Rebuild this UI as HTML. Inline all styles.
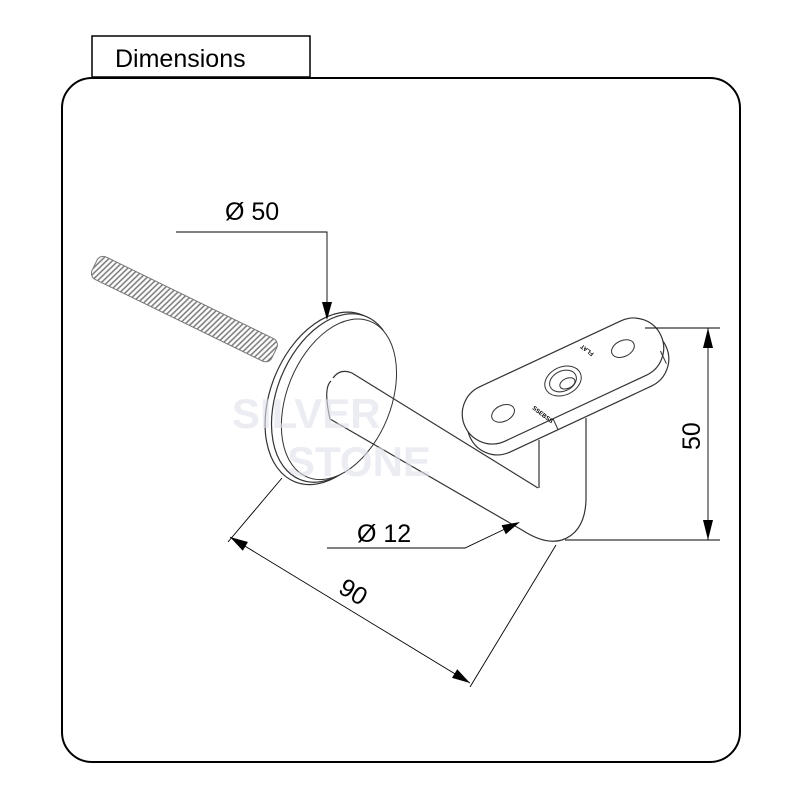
<!DOCTYPE html>
<html><head><meta charset="utf-8"><style>
html,body{margin:0;padding:0;background:#fff;width:800px;height:800px;overflow:hidden}
svg{display:block}
text{font-family:"Liberation Sans",sans-serif}
</style></head><body>
<svg width="800" height="800" viewBox="0 0 800 800" xmlns="http://www.w3.org/2000/svg">
<defs>
<pattern id="thr" width="4" height="30" patternUnits="userSpaceOnUse" patternTransform="rotate(20)"><rect width="4" height="30" fill="#fff"/><path d="M1.5,0 L1.5,30" stroke="#777" stroke-width="1.5"/></pattern>
</defs>
<rect x="62" y="78" width="678" height="684" rx="30" fill="#fff" stroke="#000" stroke-width="2"/>
<rect x="92" y="36" width="218" height="41" fill="#fff" stroke="#000" stroke-width="1.5"/>
<text x="115" y="67" font-size="25">Dimensions</text>
<!-- threaded rod -->
<g transform="translate(100,254) rotate(26)">
<rect x="0" y="0" width="200" height="25" rx="7" fill="url(#thr)" stroke="#777" stroke-width="1"/>
</g>
<!-- disc -->
<g transform="translate(333,398) rotate(22)">
<ellipse cx="-4" cy="2" rx="58" ry="90" fill="#fff" stroke="#333" stroke-width="1.2"/>
<ellipse cx="0" cy="0" rx="56" ry="88" fill="#fff" stroke="#333" stroke-width="1.2"/>
<ellipse cx="6" cy="-1" rx="52" ry="84" fill="#fff" stroke="#333" stroke-width="1"/>
</g>
<!-- rod -->
<path d="M333,378 Q340,368 352,373 L538,488" fill="none" stroke="#333" stroke-width="1.2"/>
<path d="M331,381 Q323,388 330,419 L522,530 Q545,545 562,540 Q585,532 586,500 L586,418" fill="none" stroke="#333" stroke-width="1.2"/>
<line x1="539" y1="440" x2="539" y2="488" stroke="#333" stroke-width="1.2"/>
<!-- plate -->
<g transform="translate(563,381) rotate(-25)">
<rect x="-108" y="-18" width="216" height="60" rx="30" fill="#fff" stroke="#333" stroke-width="1.2"/>
<rect x="-108" y="-30" width="216" height="60" rx="30" fill="#fff" stroke="#333" stroke-width="1.2"/>
<line x1="-25" y1="30" x2="-25" y2="42" stroke="#333"/>
<line x1="101" y1="14" x2="101" y2="28" stroke="#333"/>
<ellipse cx="0" cy="0" rx="19" ry="14" fill="none" stroke="#333"/>
<ellipse cx="0" cy="0" rx="14" ry="10" fill="none" stroke="#333"/>
<ellipse cx="3" cy="4" rx="8" ry="5" fill="none" stroke="#333"/>
<ellipse cx="-68" cy="4" rx="12" ry="8" fill="none" stroke="#333"/>
<ellipse cx="68" cy="-4" rx="12" ry="8" fill="none" stroke="#333"/>
<text x="-40" y="12" font-size="6" font-weight="bold" transform="rotate(62 -40 12)">SSEBSS</text>
<text x="40" y="-12" font-size="6" font-weight="bold" transform="rotate(242 40 -12)">FLAT</text>
</g>
<!-- watermark -->
<g fill="#dfe2ea" font-weight="bold" font-size="42" opacity="0.6">
<text x="232" y="428">SILVER</text>
<text x="287" y="476">STONE</text>
</g>
<!-- dims -->
<g stroke="#000" stroke-width="0.9" fill="none">
<path d="M176,232 H327 V305"/>
<line x1="645" y1="328" x2="720" y2="328"/>
<line x1="565" y1="540" x2="720" y2="540"/>
<line x1="708" y1="328" x2="708" y2="540"/>
<path d="M327,548 H465 L505,529"/>
<line x1="282" y1="478" x2="228" y2="542"/>
<line x1="556" y1="545" x2="470" y2="687"/>
<line x1="230" y1="537" x2="470" y2="683"/>
</g>
<g fill="#000">
<polygon points="327,320 322,302 332,302"/>
<polygon points="708,328 703,348 713,348"/>
<polygon points="708,540 703,520 713,520"/>
<polygon points="520,522 505.8,534.2 501.6,525.2"/>
<polygon points="230,537 242.8,550.7 248,542"/>
<polygon points="470,683 452,677.9 457.2,669.3"/>
</g>
<text x="225" y="220" font-size="25">Ø 50</text>
<text x="357" y="542" font-size="25">Ø 12</text>
<text x="0" y="0" font-size="25" transform="translate(700,450) rotate(-90)">50</text>
<text x="0" y="0" font-size="25" transform="translate(337,592) rotate(31)">90</text>
</svg>
</body></html>
